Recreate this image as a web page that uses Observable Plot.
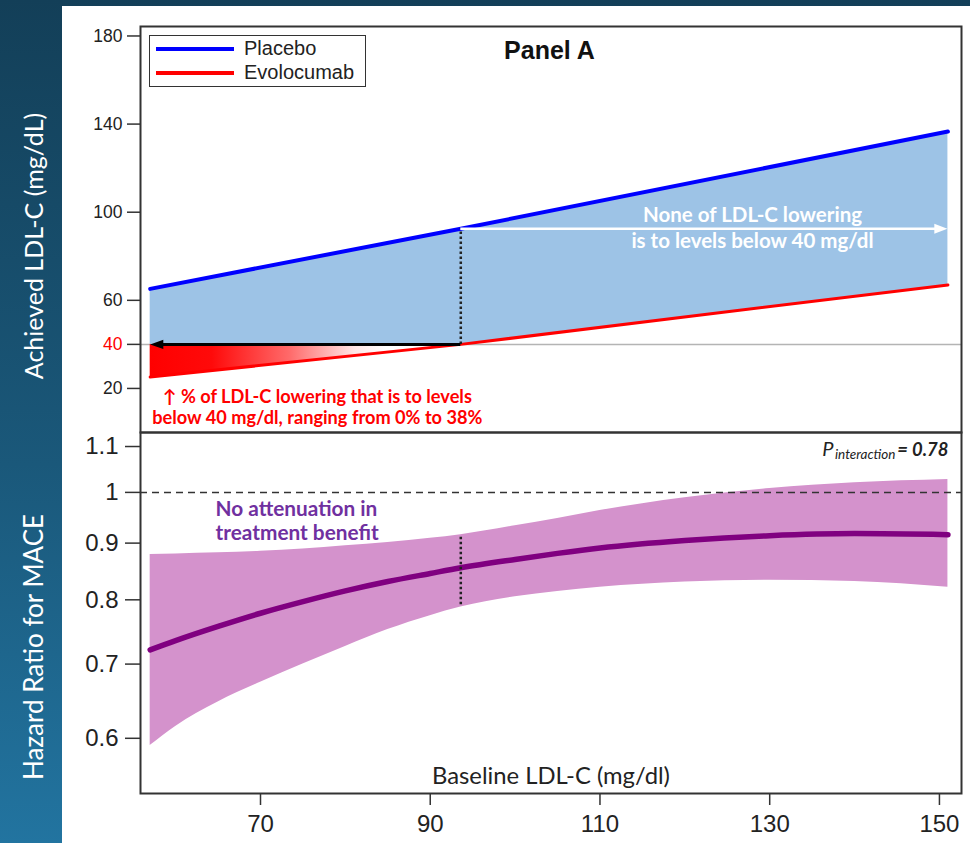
<!DOCTYPE html>
<html>
<head>
<meta charset="utf-8">
<script src="https://cdn.jsdelivr.net/npm/d3@7"></script>
<script src="https://cdn.jsdelivr.net/npm/@observablehq/plot@0.6"></script>
<style>
  body { margin: 0; }
  #wrap { position: relative; width: 970px; height: 843px; overflow: hidden;
          background: linear-gradient(to bottom, #133f58 0%, #1a587a 55%, #2274a0 100%); }
  #panel { position: absolute; left: 62px; top: 6px; width: 908px; height: 837px; background: #fff; }
  .ylab { position: absolute; left: 33px; color: #fff; font-family: Lato, "Open Sans", sans-serif;
          white-space: nowrap; transform: translate(-50%, -50%) rotate(-90deg); }
  #top, #bottom { position: absolute; left: 0; }
  #top { top: 0; }
  #bottom { top: 431px; }
  #legend { position: absolute; left: 149px; top: 35px; width: 217px; height: 52px; box-sizing: border-box;
            border: 1.5px solid #333; background: #fff; font-family: "Liberation Sans", Arial, sans-serif;
            font-size: 20px; color: #222; }
  #legend .sw { position: absolute; left: 5.5px; width: 78px; height: 4px; }
  #legend .lt { position: absolute; left: 94px; line-height: 20px; }
</style>
</head>
<body>
<div id="wrap">
  <div id="panel"></div>
  <div class="ylab" style="top:246px;font-size:25px">Achieved LDL-C (mg/dL)</div>
  <div class="ylab" style="top:647px;font-size:26px">Hazard Ratio for MACE</div>
  <div id="top"></div>
  <div id="bottom"></div>
  <div id="legend"></div>
</div>
<script>
// ---------- data ----------
const seriesNames = ["Placebo", "Evolocumab"];
const seriesColors = ["#0000ff", "#ff0000"];

// Panel A: achieved LDL-C vs baseline LDL-C
const topX = [57, 93.6, 151];
const placebo = [65.2, 92.5, 136.6];
const evolocumab = [25.2, 40, 67.0];
const threshold = 40;
const topTicks = [20, 40, 60, 100, 140, 180];

// Lower panel: hazard ratio for MACE vs baseline LDL-C
const hrX     = [57, 60, 65, 70, 75, 80, 85, 90, 93.6, 100, 105, 110, 120, 130, 140, 151];
const hr      = [0.721, 0.735, 0.757, 0.778, 0.797, 0.815, 0.831, 0.845, 0.855, 0.870, 0.881, 0.891, 0.905, 0.914, 0.918, 0.916];
const hrUpper = [0.879, 0.880, 0.882, 0.885, 0.889, 0.895, 0.901, 0.909, 0.916, 0.933, 0.947, 0.963, 0.989, 1.008, 1.020, 1.027];
const hrLower = [0.591, 0.615, 0.647, 0.674, 0.700, 0.726, 0.752, 0.774, 0.788, 0.805, 0.814, 0.821, 0.830, 0.833, 0.831, 0.821];
const hrTicks = [0.6, 0.7, 0.8, 0.9, 1, 1.1];
const xTicks = [70, 90, 110, 130, 150];
const pInteraction = "0.78";

// ---------- helpers ----------
const topData = topX.map((x, i) => ({x, placebo: placebo[i], evo: evolocumab[i], floor: Math.max(threshold, evolocumab[i])}));
const belowData = topData.filter(d => d.evo <= threshold);
const hrData = hrX.map((x, i) => ({x, hr: hr[i], lo: hrLower[i], hi: hrUpper[i]}));
const crossX = topX[1];

const arrowLeft = {draw(c, size) { const h = Math.sqrt(size); c.moveTo(0, 0); c.lineTo(h, -h * 0.36); c.lineTo(h, h * 0.36); c.closePath(); }};
const arrowRight = {draw(c, size) { const h = Math.sqrt(size); c.moveTo(0, 0); c.lineTo(-h, -h * 0.38); c.lineTo(-h, h * 0.38); c.closePath(); }};

const xDomain = [55.86, 152.6];
const tickFont = "'Liberation Sans', Arial, sans-serif";
const annFont = "Lato, 'Open Sans', sans-serif";

const gradientDefs = () => {
  const defs = d3.create("svg:defs");
  const g = defs.append("linearGradient").attr("id", "redfade")
    .attr("x1", 0).attr("x2", 1).attr("y1", 0).attr("y2", 0);
  [[0, "#ff0000"], [0.2, "#ff0a0a"], [0.45, "#ff6a6a"], [0.66, "#ffe6e6"], [0.76, "#ffffff"], [1, "#ffffff"]]
    .forEach(([o, c]) => g.append("stop").attr("offset", o).attr("stop-color", c));
  return defs.node();
};

// ---------- top panel ----------
const topPlot = Plot.plot({
  width: 970, height: 433,
  marginTop: 26, marginBottom: 1, marginLeft: 140, marginRight: 9,
  style: {background: "transparent", fontFamily: tickFont, overflow: "visible"},
  x: {domain: xDomain, axis: null},
  y: {domain: [0, 184.3], axis: null},
  marks: [
    gradientDefs,
    Plot.areaY(topData, {x: "x", y1: "floor", y2: "placebo", fill: "#9dc3e6"}),
    Plot.ruleY([threshold], {stroke: "#b4b4b4", strokeWidth: 1.5}),
    Plot.areaY(belowData, {x: "x", y1: "evo", y2: threshold, fill: "url(#redfade)"}),
    Plot.line(topData, {x: "x", y: "placebo", stroke: seriesColors[0], strokeWidth: 4}),
    Plot.line(topData, {x: "x", y: "evo", stroke: seriesColors[1], strokeWidth: 3}),
    Plot.ruleX([crossX], {y1: threshold, y2: placebo[1], stroke: "#222", strokeWidth: 2.5, strokeDasharray: "2.5,2.5"}),
    Plot.ruleY([threshold], {x1: topX[0] + 1.2, x2: crossX, stroke: "#000", strokeWidth: 3}),
    Plot.dot([{x: topX[0], y: threshold}], {x: "x", y: "y", symbol: arrowLeft, r: 7.4, fill: "#000", stroke: null}),
    Plot.ruleY([placebo[1]], {x1: crossX, x2: 149.6, stroke: "#fff", strokeWidth: 2.5}),
    Plot.dot([{x: 150.94, y: placebo[1]}], {x: "x", y: "y", symbol: arrowRight, r: 7.4, fill: "#fff", stroke: null}),
    Plot.text(["None of LDL-C lowering"], {x: 127.97, y: 98.4, fill: "#fff", fontWeight: "bold", fontSize: 20.5, fontFamily: annFont}),
    Plot.text(["is to levels below 40 mg/dl"], {x: 127.97, y: 86.8, fill: "#fff", fontWeight: "bold", fontSize: 20.5, fontFamily: annFont}),
    Plot.text(["↑ % of LDL-C lowering that is to levels"],
      {x: 76.7, y: 15.9, fill: "#ff0000", fontWeight: "bold", fontSize: 18.2, fontFamily: annFont}),
    Plot.text(["below 40 mg/dl, ranging from 0% to 38%"],
      {x: 76.7, y: 6.4, fill: "#ff0000", fontWeight: "bold", fontSize: 18.2, fontFamily: annFont}),
    Plot.text(["Panel A"], {x: 104.05, y: 173.4, fontWeight: "bold", fontSize: 25, fill: "#111", fontFamily: tickFont}),
    Plot.axisY({ticks: topTicks.filter(t => t !== threshold), tickSize: 13, tickPadding: 5, fontSize: 17.5, strokeWidth: 1.5, stroke: "#333", fill: "#222", label: null}),
    Plot.axisY({ticks: [threshold], tickSize: 13, tickPadding: 5, fontSize: 17.5, strokeWidth: 1.5, stroke: "#333", fill: "#ff0000", label: null}),
    Plot.frame({stroke: "#333", strokeWidth: 2})
  ]
});
document.getElementById("top").append(topPlot);

// ---------- bottom panel ----------
const bottomPlot = Plot.plot({
  width: 970, height: 412,
  marginTop: 1, marginBottom: 50, marginLeft: 140, marginRight: 9,
  style: {background: "transparent", fontFamily: tickFont, overflow: "visible"},
  x: {domain: xDomain, axis: null},
  y: {type: "log", domain: [0.535, 1.1325], axis: null},
  marks: [
    Plot.areaY(hrData, {x: "x", y1: "lo", y2: "hi", fill: "#d492cc", curve: "monotone-x"}),
    Plot.ruleY([1], {stroke: "#333", strokeWidth: 1.5, strokeDasharray: "7,5"}),
    Plot.line(hrData, {x: "x", y: "hr", stroke: "#800080", strokeWidth: 5.5, curve: "monotone-x"}),
    Plot.ruleX([crossX], {y1: 0.792, y2: 0.916, stroke: "#222", strokeWidth: 2.5, strokeDasharray: "2.5,2.5"}),
    Plot.text(["No attenuation in"], {x: 64.7, y: 0.965, textAnchor: "start", fill: "#7030a0", fontWeight: "bold", fontSize: 20.8, fontFamily: annFont}),
    Plot.text(["treatment benefit"], {x: 64.7, y: 0.918, textAnchor: "start", fill: "#7030a0", fontWeight: "bold", fontSize: 20.8, fontFamily: annFont}),
    Plot.text(["= " + pInteraction], {x: 151.06, y: 1.0796, textAnchor: "end", lineAnchor: "bottom", fontStyle: "italic", fontWeight: "bold", fontSize: 18.4, fill: "#222", fontFamily: annFont}),
    Plot.text(["interaction"], {x: 151.06, y: 1.0796, dx: -53, dy: 3, textAnchor: "end", lineAnchor: "bottom", fontStyle: "italic", fontSize: 13.5, fill: "#222", fontFamily: annFont}),
    Plot.text(["P"], {x: 151.06, y: 1.0796, dx: -115, textAnchor: "end", lineAnchor: "bottom", fontStyle: "italic", fontSize: 20, fill: "#222", fontFamily: annFont}),
    Plot.text(["Baseline LDL-C (mg/dl)"], {frameAnchor: "bottom", dy: -10, lineAnchor: "bottom", fontSize: 23.8, fill: "#222", fontFamily: annFont}),
    Plot.axisY({ticks: hrTicks, tickFormat: d => String(d), tickSize: 15, tickPadding: 7, fontSize: 24, strokeWidth: 1.5, stroke: "#333", fill: "#222", label: null}),
    Plot.axisX({ticks: xTicks, tickSize: 12, tickPadding: 9, fontSize: 24, strokeWidth: 1.5, stroke: "#333", fill: "#222", label: null}),
    Plot.frame({stroke: "#333", strokeWidth: 2})
  ]
});
document.getElementById("bottom").append(bottomPlot);

// ---------- legend ----------
const legend = document.getElementById("legend");
seriesNames.forEach((name, i) => {
  const sw = document.createElement("div");
  sw.className = "sw"; sw.style.top = (10.5 + i * 24) + "px"; sw.style.background = seriesColors[i];
  const lt = document.createElement("div");
  lt.className = "lt"; lt.style.top = (2 + i * 24) + "px"; lt.textContent = name;
  legend.append(sw, lt);
});
</script>
</body>
</html>
